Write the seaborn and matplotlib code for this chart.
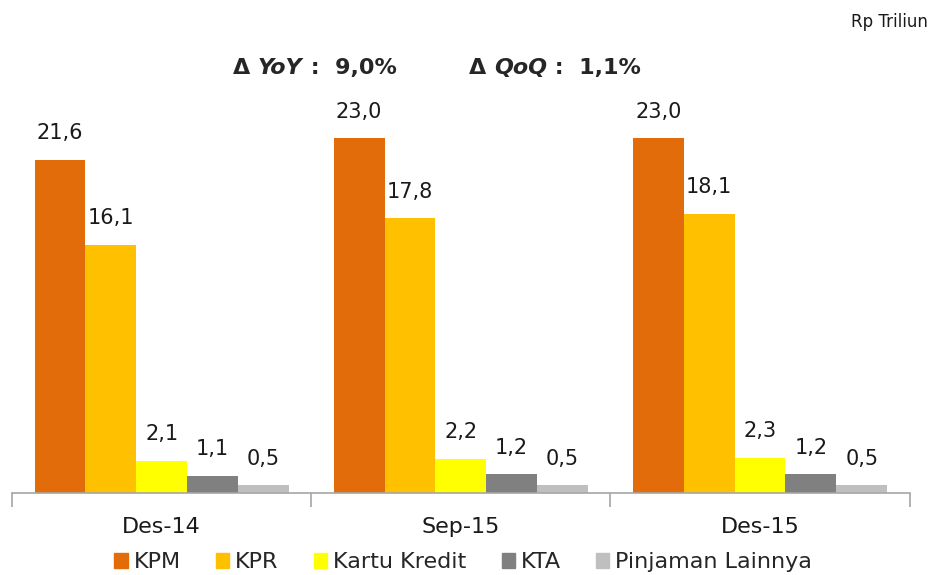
import matplotlib
matplotlib.use("Agg")
import matplotlib.pyplot as plt
import seaborn as sns
import pandas as pd

periods = ["Des-14", "Sep-15", "Des-15"]
series = ["KPM", "KPR", "Kartu Kredit", "KTA", "Pinjaman Lainnya"]
kpm = [21.6, 23.0, 23.0]
kpr = [16.1, 17.8, 18.1]
kartu_kredit = [2.1, 2.2, 2.3]
kta = [1.1, 1.2, 1.2]
pinjaman_lainnya = [0.5, 0.5, 0.5]
colors = ["#E36C0A", "#FFC000", "#FFFF00", "#808080", "#BFBFBF"]

sns.set_style("white")
plt.rcParams["font.family"] = ["DejaVu Sans"]

rows = []
for name, vals in zip(series, [kpm, kpr, kartu_kredit, kta, pinjaman_lainnya]):
    for p, v in zip(periods, vals):
        rows.append({"period": p, "series": name, "value": v})
df = pd.DataFrame(rows)

fig = plt.figure(figsize=(9.32, 5.75), dpi=100)
ax = fig.add_axes([0.013, 0.1426, 0.963, 0.692])

sns.barplot(data=df, x="period", y="value", hue="series", order=periods,
            hue_order=series, palette=colors, width=0.85, gap=0,
            saturation=1, linewidth=0, ax=ax, legend=False)

for cont in ax.containers:
    ax.bar_label(cont, labels=[f"{b.get_height():.1f}".replace(".", ",") for b in cont],
                 padding=12, fontsize=15, color="#1a1a1a")

ax.set_xlim(-0.5, 2.5)
ax.set_ylim(0, 25.8)
ax.set_xlabel("")
ax.set_ylabel("")
ax.set_yticks([])
for s in ["top", "right", "left"]:
    ax.spines[s].set_visible(False)
ax.spines["bottom"].set_color("#a6a6a6")
ax.spines["bottom"].set_linewidth(1.2)
ax.set_xticks([-0.5, 0.5, 1.5, 2.5])
ax.set_xticklabels([])
ax.tick_params(axis="x", which="major", length=10, width=1.2, color="#a6a6a6",
               direction="out", bottom=True)
ax.set_xticks([0, 1, 2], minor=True)
ax.set_xticklabels(periods, minor=True, fontsize=16, color="#1a1a1a")
ax.tick_params(axis="x", which="minor", length=0, pad=17)

handles = [plt.Rectangle((0, 0), 1, 1, color=c) for c in colors]
fig.legend(handles, series, loc="center", bbox_to_anchor=(0.497, 0.022), ncol=5,
           frameon=False, fontsize=16, handlelength=0.6, handleheight=0.6,
           handletextpad=0.25, columnspacing=1.6, borderaxespad=0)

fig.text(0.996, 0.962, "Rp Triliun", ha="right", va="center", fontsize=12, color="#1a1a1a")

# header with italic YoY / QoQ pieces chained after each other
t1 = fig.text(0.25, 0.882, "Δ ", fontsize=16, fontweight="bold", va="center")
t2 = ax.annotate("YoY", xy=(1, 0), xycoords=t1, va="bottom", fontsize=16,
                 fontweight="bold", fontstyle="italic")
ax.annotate(" :  9,0%", xy=(1, 0), xycoords=t2, va="bottom", fontsize=16, fontweight="bold")
t3 = fig.text(0.503, 0.882, "Δ ", fontsize=16, fontweight="bold", va="center")
t4 = ax.annotate("QoQ", xy=(1, 0), xycoords=t3, va="bottom", fontsize=16,
                 fontweight="bold", fontstyle="italic")
ax.annotate(" :  1,1%", xy=(1, 0), xycoords=t4, va="bottom", fontsize=16, fontweight="bold")

fig.savefig("out.png", dpi=100)
